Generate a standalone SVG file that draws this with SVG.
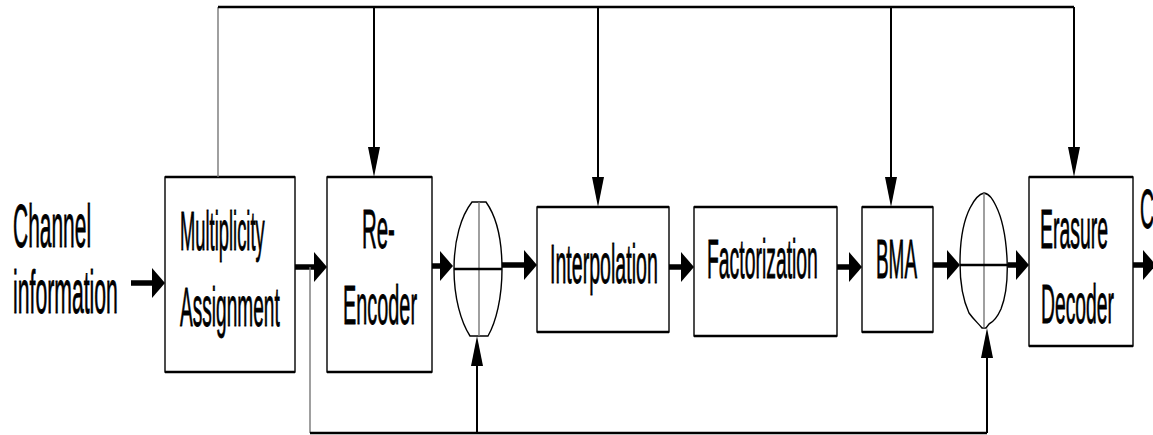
<svg xmlns="http://www.w3.org/2000/svg" width="1153" height="435" viewBox="0 0 1153 435">
  <style>
    .box { fill: #fff; stroke: #000; stroke-width: 1.4; }
    .edge { stroke: #000; stroke-width: 2.6; }
    .lbl { font-family: "Liberation Sans", Arial, sans-serif; font-size: 56px; fill: #000; stroke: #000; stroke-width: 0.6; vector-effect: non-scaling-stroke; }
    .big { font-size: 62px; }
    .flow { stroke: #000; stroke-width: 5.5; fill: none; }
    .ctl { stroke: #000; stroke-width: 2; fill: none; }
    .bus { stroke: #000; stroke-width: 2.6; fill: none; }
    .tap { stroke: #777; stroke-width: 1.4; fill: none; }
    .sum { fill: #fff; stroke: #000; stroke-width: 1.4; }
    .cross { stroke: #777; stroke-width: 1.4; }
    .bar { stroke: #000; stroke-width: 2.4; }
  </style>
  <defs>
    <marker id="bigHead" markerUnits="userSpaceOnUse" viewBox="0 0 13 30" refX="0" refY="15" markerWidth="13" markerHeight="30" orient="auto">
      <path d="M0,0 L13,15 L0,30 Z" fill="#000"/>
    </marker>
    <marker id="thinHead" markerUnits="userSpaceOnUse" viewBox="0 0 30 12" refX="0" refY="6" markerWidth="30" markerHeight="12" orient="auto">
      <path d="M0,0 L30,6 L0,12 Z" fill="#000"/>
    </marker>
  </defs>

  <!-- input label (condensed lettering) -->
  <g id="channel-info">
    <text class="lbl big" transform="translate(13,247) scale(0.338,1)">Channel</text>
    <text class="lbl big" transform="translate(13,313) scale(0.342,1)">information</text>
  </g>

  <g id="multiplicity">
    <rect class="box" x="165" y="177" width="130" height="195"/>
    <line class="edge" x1="165" y1="177" x2="295" y2="177"/>
    <line class="edge" x1="165" y1="372" x2="295" y2="372"/>
    <text class="lbl" transform="translate(180,250) scale(0.328,1)">Multiplicity</text>
    <text class="lbl" transform="translate(180,326) scale(0.341,1)">Assignment</text>
  </g>

  <g id="re-encoder">
    <rect class="box" x="327" y="177" width="105" height="195"/>
    <line class="edge" x1="327" y1="177" x2="432" y2="177"/>
    <line class="edge" x1="327" y1="372" x2="432" y2="372"/>
    <text class="lbl" transform="translate(362,248) scale(0.365,1)">Re-</text>
    <text class="lbl" transform="translate(343,324) scale(0.355,1)">Encoder</text>
  </g>

  <g id="sum1">
    <path class="sum" d="M472,202 L486,202 C496,216 502,240 502,269 C502,298 496,322 488,336 L470,336 C461,322 454,298 454,269 C454,240 461,216 472,202 Z"/>
    <line class="cross" x1="479" y1="202" x2="479" y2="336"/>
    <line class="bar" x1="454" y1="269" x2="502" y2="269"/>
  </g>

  <g id="interpolation">
    <rect class="box" x="537" y="207" width="132" height="125"/>
    <line class="edge" x1="537" y1="207" x2="669" y2="207"/>
    <line class="edge" x1="537" y1="332" x2="669" y2="332"/>
    <text class="lbl" transform="translate(550,283) scale(0.35,1)">Interpolation</text>
  </g>

  <g id="factorization">
    <rect class="box" x="694" y="207" width="143" height="129"/>
    <line class="edge" x1="694" y1="207" x2="837" y2="207"/>
    <line class="edge" x1="694" y1="336" x2="837" y2="336"/>
    <text class="lbl" transform="translate(707,278) scale(0.346,1)">Factorization</text>
  </g>

  <g id="bma">
    <rect class="box" x="862" y="207" width="71" height="125"/>
    <line class="edge" x1="862" y1="207" x2="933" y2="207"/>
    <line class="edge" x1="862" y1="332" x2="933" y2="332"/>
    <text class="lbl" transform="translate(876,278) scale(0.338,1)">BMA</text>
  </g>

  <g id="sum2">
    <path class="sum" d="M984,193 C990,194 993,200 996,206 C1003,220 1006,240 1007,258 C1008,278 1006,296 1001,309 C997,318 993,322 989,324 L986,328 L982,328 C979,324 974,320 969,313 C963,300 960,282 960,263 C960,242 963,222 970,208 C975,198 979,194 984,193 Z"/>
    <line class="cross" x1="984" y1="193" x2="984" y2="328"/>
    <line class="bar" x1="960" y1="265" x2="1008" y2="265"/>
  </g>

  <g id="erasure-decoder">
    <rect class="box" x="1029" y="177" width="104" height="169"/>
    <line class="edge" x1="1029" y1="177" x2="1133" y2="177"/>
    <line class="edge" x1="1029" y1="346" x2="1133" y2="346"/>
    <text class="lbl" transform="translate(1040,248) scale(0.347,1)">Erasure</text>
    <text class="lbl" transform="translate(1041,323) scale(0.345,1)">Decoder</text>
  </g>

  <g id="output-label">
    <text class="lbl" transform="translate(1140,228) scale(0.35,1)">C</text>
  </g>

  <g id="connectors">
    <!-- data path -->
    <line class="flow" x1="131" y1="283" x2="152" y2="283" marker-end="url(#bigHead)"/>
    <line class="flow" x1="295" y1="267" x2="314" y2="267" marker-end="url(#bigHead)"/>
    <line class="flow" x1="432" y1="266" x2="440" y2="266" marker-end="url(#bigHead)"/>
    <line class="flow" x1="502" y1="265" x2="524" y2="265" marker-end="url(#bigHead)"/>
    <line class="flow" x1="669" y1="267" x2="681" y2="267" marker-end="url(#bigHead)"/>
    <line class="flow" x1="837" y1="267" x2="849" y2="267" marker-end="url(#bigHead)"/>
    <line class="flow" x1="933" y1="265" x2="947" y2="265" marker-end="url(#bigHead)"/>
    <line class="flow" x1="1008" y1="265" x2="1016" y2="265" marker-end="url(#bigHead)"/>
    <line class="flow" x1="1133" y1="265" x2="1143" y2="265" marker-end="url(#bigHead)"/>

    <!-- multiplicity bus along the top -->
    <path class="tap" d="M218,177 V7"/>
    <path class="bus" d="M218,7 H1074"/>
    <line class="ctl" x1="374" y1="7" x2="374" y2="147" marker-end="url(#thinHead)"/>
    <line class="ctl" x1="598" y1="7" x2="598" y2="177" marker-end="url(#thinHead)"/>
    <line class="ctl" x1="891" y1="7" x2="891" y2="177" marker-end="url(#thinHead)"/>
    <line class="ctl" x1="1074" y1="7" x2="1074" y2="147" marker-end="url(#thinHead)"/>

    <!-- return path along the bottom -->
    <path class="tap" d="M310,267 V433"/>
    <path class="bus" d="M310,433 H987"/>
    <line class="ctl" x1="477" y1="433" x2="477" y2="366" marker-end="url(#thinHead)"/>
    <line class="ctl" x1="987" y1="433" x2="987" y2="358" marker-end="url(#thinHead)"/>
  </g>
</svg>
